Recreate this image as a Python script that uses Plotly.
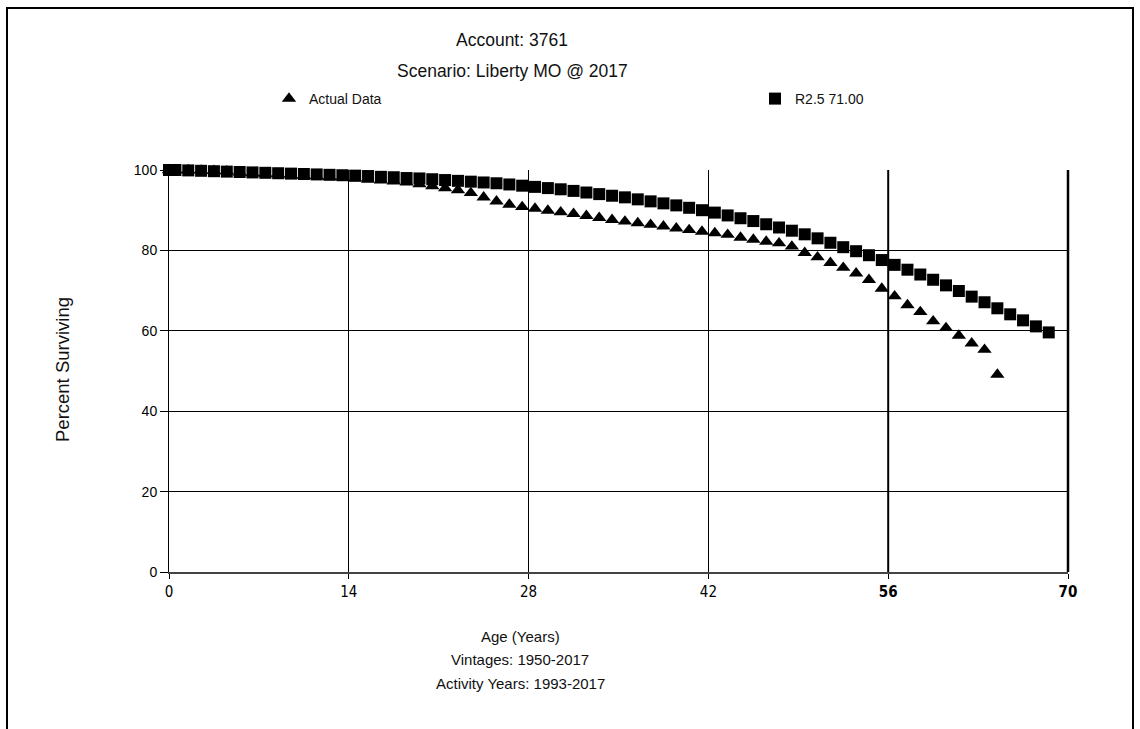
import plotly.graph_objects as go

# Fitted Iowa curve (R2.5, 71-year average life), evaluated at the table ages
ages_curve = [0, 0.5, 1.5, 2.5, 3.5, 4.5, 5.5, 6.5, 7.5, 8.5, 9.5,
              10.5, 11.5, 12.5, 13.5, 14.5, 15.5, 16.5, 17.5, 18.5, 19.5,
              20.5, 21.5, 22.5, 23.5, 24.5, 25.5, 26.5, 27.5, 28.5, 29.5,
              30.5, 31.5, 32.5, 33.5, 34.5, 35.5, 36.5, 37.5, 38.5, 39.5,
              40.5, 41.5, 42.5, 43.5, 44.5, 45.5, 46.5, 47.5, 48.5, 49.5,
              50.5, 51.5, 52.5, 53.5, 54.5, 55.5, 56.5, 57.5, 58.5, 59.5,
              60.5, 61.5, 62.5, 63.5, 64.5, 65.5, 66.5, 67.5, 68.5]
surv_curve = [100.0, 100.0, 99.9, 99.8, 99.7, 99.6, 99.5, 99.4, 99.3, 99.2, 99.1,
              99.0, 98.9, 98.8, 98.7, 98.6, 98.5, 98.3, 98.2, 98.0, 97.9,
              97.7, 97.5, 97.3, 97.1, 96.9, 96.7, 96.4, 96.1, 95.8, 95.5,
              95.2, 94.8, 94.4, 94.0, 93.6, 93.2, 92.7, 92.2, 91.7, 91.2,
              90.6, 90.0, 89.4, 88.7, 88.0, 87.3, 86.5, 85.7, 84.9, 84.0,
              83.0, 81.9, 80.8, 79.8, 78.8, 77.6, 76.4, 75.2, 74.0, 72.7,
              71.3, 69.9, 68.5, 67.1, 65.6, 64.1, 62.6, 61.1, 59.6]

# Observed life table (actual data)
ages_actual = [0, 0.5, 1.5, 2.5, 3.5, 4.5, 5.5, 6.5, 7.5, 8.5, 9.5,
               10.5, 11.5, 12.5, 13.5, 14.5, 15.5, 16.5, 17.5, 18.5, 19.5,
               20.5, 21.5, 22.5, 23.5, 24.5, 25.5, 26.5, 27.5, 28.5, 29.5,
               30.5, 31.5, 32.5, 33.5, 34.5, 35.5, 36.5, 37.5, 38.5, 39.5,
               40.5, 41.5, 42.5, 43.5, 44.5, 45.5, 46.5, 47.5, 48.5, 49.5,
               50.5, 51.5, 52.5, 53.5, 54.5, 55.5, 56.5, 57.5, 58.5, 59.5,
               60.5, 61.5, 62.5, 63.5, 64.5]
surv_actual = [100.0, 100.0, 100.0, 99.9, 99.8, 99.7, 99.4, 99.2, 99.1, 99.0, 98.7,
               98.6, 98.5, 98.3, 98.2, 97.9, 97.6, 97.4, 97.2, 96.9, 96.5,
               96.0, 95.5, 95.0, 94.3, 93.2, 92.2, 91.4, 90.8, 90.4, 89.9,
               89.5, 89.1, 88.6, 88.1, 87.6, 87.2, 86.8, 86.4, 86.0, 85.5,
               85.1, 84.7, 84.3, 83.9, 83.2, 82.7, 82.2, 81.8, 81.0, 79.4,
               78.3, 76.9, 75.7, 74.3, 72.7, 70.5, 68.6, 66.4, 64.7, 62.4,
               60.7, 58.8, 56.9, 55.3, 49.1]

x_tickvals = [0, 14, 28, 42, 56, 70]
x_ticktext = ["0", "14", "28", "42", "<b>56</b>", "<b>70</b>"]
y_tickvals = [0, 20, 40, 60, 80, 100]

title_lines = ["Account: 3761", "Scenario: Liberty MO @ 2017"]
x_title_lines = ["Age (Years)", "Vintages: 1950-2017", "Activity Years: 1993-2017"]
y_title = "Percent Surviving"

FONT = "Liberation Sans, Arial, sans-serif"
NARROW = "Liberation Sans Narrow, DejaVu Sans Condensed, Arial Narrow, sans-serif"

W, H = 1140, 729
L, R, T, B = 169, 72, 170, 157
plot_w = W - L - R
plot_h = H - T - B


def px_x(px):
    return (px - L) / plot_w


def px_y(py):
    return (H - B - py) / plot_h


fig = go.Figure()
fig.add_trace(go.Scatter(
    x=ages_actual, y=surv_actual, mode="markers", name="Actual Data",
    marker=dict(symbol="triangle-up", size=12.5, color="black", line=dict(width=0)),
    cliponaxis=False, legend="legend",
))
fig.add_trace(go.Scatter(
    x=ages_curve, y=surv_curve, mode="markers", name="R2.5 71.00",
    marker=dict(symbol="square", size=12, color="black", line=dict(width=0)),
    cliponaxis=False, legend="legend2",
))

annotations = []
for text, py in zip(title_lines, [40, 71]):
    annotations.append(dict(
        text=text, xref="paper", yref="paper", x=px_x(512), y=px_y(py),
        xanchor="center", yanchor="middle", showarrow=False,
        font=dict(family=FONT, size=17.5, color="#111"),
    ))
for text, py in zip(x_title_lines, [636, 659, 683]):
    annotations.append(dict(
        text=text, xref="paper", yref="paper", x=px_x(520), y=px_y(py),
        xanchor="center", yanchor="middle", showarrow=False,
        font=dict(family=FONT, size=15, color="#111"),
    ))
annotations.append(dict(
    text=y_title, xref="paper", yref="paper", x=px_x(62), y=px_y(370),
    xanchor="center", yanchor="middle", showarrow=False, textangle=-90,
    font=dict(family=FONT, size=18.5, color="#111"),
))

shapes = [
    # outer frame of the page
    dict(type="rect", xref="paper", yref="paper",
         x0=px_x(7), x1=px_x(1133), y0=px_y(745), y1=px_y(8),
         line=dict(color="black", width=2), fillcolor="rgba(0,0,0,0)", layer="below"),
    # heavier grid lines at the last two age ticks
    dict(type="line", xref="x", yref="paper", x0=56, x1=56, y0=0, y1=1,
         line=dict(color="black", width=2), layer="below"),
    dict(type="line", xref="paper", yref="paper", x0=1, x1=1, y0=0, y1=1,
         line=dict(color="black", width=2.5), layer="above"),
]

legend_common = dict(
    orientation="h", xanchor="left", yanchor="top",
    font=dict(family=FONT, size=14, color="#111"),
    bgcolor="rgba(0,0,0,0)", borderwidth=0,
    itemclick=False, itemdoubleclick=False,
)

fig.update_layout(
    width=W, height=H, autosize=False,
    margin=dict(l=L, r=R, t=T, b=B),
    paper_bgcolor="white", plot_bgcolor="white",
    font=dict(family=FONT, color="black"),
    showlegend=True,
    legend=dict(x=px_x(269), y=px_y(83), **legend_common),
    legend2=dict(x=px_x(755), y=px_y(83), **legend_common),
    annotations=annotations,
    shapes=shapes,
    xaxis=dict(
        range=[0, 70], tickvals=x_tickvals, ticktext=x_ticktext,
        showgrid=True, gridcolor="black", gridwidth=1,
        zeroline=False, showline=True, linecolor="#444", linewidth=2,
        ticks="outside", ticklen=5, tickcolor="black", tickwidth=1,
        tickfont=dict(family=NARROW, size=15, color="black"),
        fixedrange=True,
    ),
    yaxis=dict(
        range=[0, 100], tickvals=y_tickvals,
        showgrid=True, gridcolor="black", gridwidth=1,
        zeroline=False, showline=True, linecolor="black", linewidth=1,
        ticks="outside", ticklen=8, tickcolor="black", tickwidth=1,
        tickfont=dict(family=FONT, size=14, color="black"),
        fixedrange=True,
    ),
)

fig.write_html("out.html")
